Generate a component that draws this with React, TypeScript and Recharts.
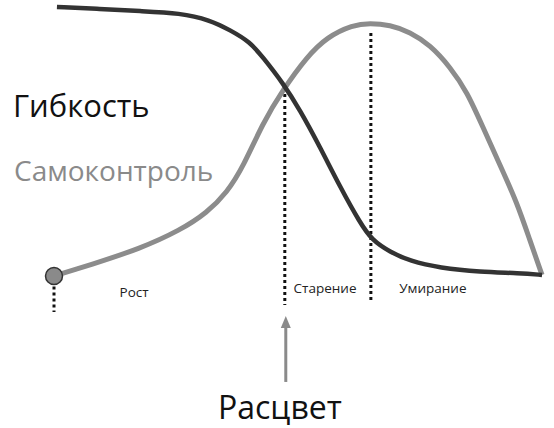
import React from "react";
import { LineChart, Line, XAxis, YAxis, ReferenceLine, ReferenceDot } from "recharts";

// Life stage, 0..100 along the horizontal axis
const flexX = [0.6, 9.4, 17.6, 25.8, 31.9, 36, 40.1, 42.7, 46.8, 50.3, 54.4, 58.5, 62.6, 65, 68.7, 72.8, 78.9, 87.1, 95.3, 99.8];
const flexY = [100.4, 99.7, 98.9, 98.2, 95.6, 91.9, 87.5, 81.9, 72.4, 62.4, 48.7, 34, 20.7, 14.4, 10, 6.6, 4.1, 2.6, 2.2, 1.5];

const ctrlX = [0, 7.4, 17.6, 25.8, 31.3, 35.4, 38.7, 42.7, 46.8, 51.7, 55.8, 61.1, 64.6, 68.7, 72.8, 76.9, 81, 84.5, 87.7, 91.2, 94.7, 97.3, 99.8];
const ctrlY = [1.1, 5.2, 11.2, 18, 24.5, 32, 41.5, 57.6, 69.8, 82, 89.3, 93.8, 94.5, 93.8, 91.2, 86.4, 78.3, 69, 56.1, 42.1, 28.1, 14.4, 1.5];

const phaseNames = ["Рост", "Старение", "Умирание"];
const phaseLabelX = [13.4, 49, 70.6];
const bloomX = 47.2;
const bloomY = 70.5;
const agingX = 64.8;
const agingTop = 90.8;

const flexData = flexX.map((x, i) => ({ x, y: flexY[i] }));
const ctrlData = ctrlX.map((x, i) => ({ x, y: ctrlY[i] }));

const FONT = "'Open Sans', 'Noto Sans', sans-serif";

const Arrowhead = ({ cx, cy }: any) => (
  <path d={`M${cx},${cy} L${cx - 5},${cy + 12} L${cx + 5},${cy + 12} Z`} fill="#8a8a8a" />
);

const PhaseText = (text: string) => ({ cx, cy }: any) => (
  <text x={cx} y={cy} fontFamily={FONT} fontSize={13.5} fill="#222" dominantBaseline="middle">
    {text}
  </text>
);

export default function App() {
  return (
    <div style={{ position: "absolute", left: 0, top: 0, width: 554, height: 428, background: "#fff" }}>
      <LineChart width={554} height={428} margin={{ top: 0, right: 11, bottom: 0, left: 54 }}>
        <XAxis type="number" dataKey="x" domain={[0, 100]} hide />
        <YAxis type="number" dataKey="y" domain={[-55, 103]} hide />

        <ReferenceLine segment={[{ x: bloomX, y: bloomY }, { x: bloomX, y: -9.6 }]} stroke="#111" strokeWidth={3} strokeDasharray="3 3" />
        <ReferenceLine segment={[{ x: agingX, y: agingTop }, { x: agingX, y: -8.9 }]} stroke="#111" strokeWidth={3} strokeDasharray="3 3" />
        <ReferenceLine segment={[{ x: 0, y: -2.8 }, { x: 0, y: -12.2 }]} stroke="#111" strokeWidth={3} strokeDasharray="3 3" />

        <ReferenceLine segment={[{ x: 47.4, y: -17 }, { x: 47.4, y: -38 }]} stroke="#8a8a8a" strokeWidth={3} />
        <ReferenceDot x={47.4} y={-13.7} r={0} shape={Arrowhead} />

        <Line data={ctrlData} dataKey="y" type="basis" stroke="#8c8c8c" strokeWidth={5} dot={false} isAnimationActive={false} />
        <Line data={flexData} dataKey="y" type="basis" stroke="#333" strokeWidth={4.5} dot={false} isAnimationActive={false} />

        <ReferenceDot x={0} y={1.1} r={8.5} fill="#8a8a8a" stroke="#333" strokeWidth={1.5} />

        {phaseNames.map((name, i) => (
          <ReferenceDot key={name} x={phaseLabelX[i]} y={i === 0 ? -5.2 : -3.7} r={0} shape={PhaseText(name)} />
        ))}
      </LineChart>

      <div style={{ position: "absolute", left: 13, top: 90, fontFamily: FONT, fontSize: 31, color: "#111", lineHeight: 1 }}>
        Гибкость
      </div>
      <div style={{ position: "absolute", left: 14, top: 156, fontFamily: FONT, fontSize: 28, color: "#8a8a8a", lineHeight: 1 }}>
        Самоконтроль
      </div>
      <div style={{ position: "absolute", left: 218, top: 391, fontFamily: FONT, fontSize: 32, color: "#111", lineHeight: 1 }}>
        Расцвет
      </div>
    </div>
  );
}
